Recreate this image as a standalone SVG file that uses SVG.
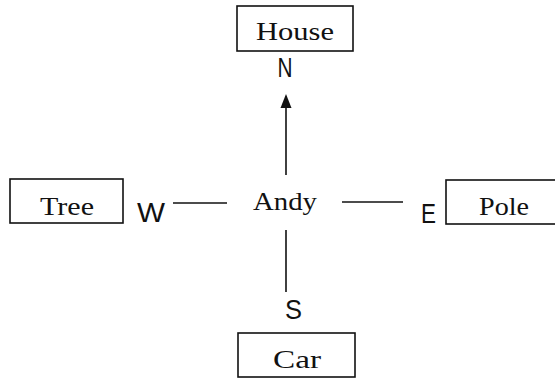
<svg xmlns="http://www.w3.org/2000/svg" width="555" height="379" viewBox="0 0 555 379">
<style>
.box{fill:#fff;stroke:#111;stroke-width:1.6}
.lbl{font-family:"Liberation Serif","Times New Roman",serif;font-size:26px;fill:#111;text-anchor:middle}
.dir{font-family:"Liberation Sans",Arial,sans-serif;font-size:27px;fill:#111;text-anchor:middle}
.ln{stroke:#111;stroke-width:1.6;fill:none}
</style>
<rect width="555" height="379" fill="#fff"/>
<g id="house"><rect class="box" x="237" y="6" width="116" height="45"/><text class="lbl" x="295" y="40" textLength="78" lengthAdjust="spacingAndGlyphs">House</text></g>
<g id="tree"><rect class="box" x="10" y="179" width="113" height="44"/><text class="lbl" x="67" y="215" textLength="54" lengthAdjust="spacingAndGlyphs">Tree</text></g>
<g id="pole"><rect class="box" x="446" y="180" width="120" height="44"/><text class="lbl" x="504" y="215" textLength="50" lengthAdjust="spacingAndGlyphs">Pole</text></g>
<g id="car"><rect class="box" x="238" y="333" width="117" height="44"/><text class="lbl" x="297" y="368" textLength="48" lengthAdjust="spacingAndGlyphs">Car</text></g>
<g id="andy"><text class="lbl" x="285" y="210" textLength="64" lengthAdjust="spacingAndGlyphs">Andy</text></g>
<g id="labels">
<text class="dir" x="285" y="77" textLength="15" lengthAdjust="spacingAndGlyphs">N</text>
<text class="dir" x="151" y="222" textLength="28" lengthAdjust="spacingAndGlyphs">W</text>
<text class="dir" x="428.5" y="223" textLength="15" lengthAdjust="spacingAndGlyphs">E</text>
<text class="dir" x="293.5" y="319" textLength="17" lengthAdjust="spacingAndGlyphs">S</text>
</g>
<g id="connectors">
<line class="ln" x1="286" y1="107" x2="286" y2="175"/>
<polygon points="286,94 280.5,108 291.5,108" fill="#111"/>
<line class="ln" x1="286" y1="230" x2="286" y2="292"/>
<line class="ln" x1="173" y1="203" x2="227" y2="203"/>
<line class="ln" x1="342" y1="202" x2="403" y2="202"/>
</g>
</svg>
